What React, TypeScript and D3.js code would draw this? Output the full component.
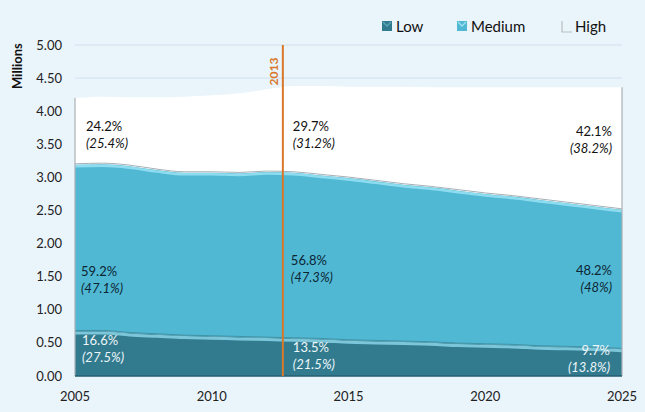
import React from "react";
import * as d3 from "d3";

const years = d3.range(2005, 2026);
const lowValues = [0.68, 0.68, 0.65, 0.63, 0.61, 0.60, 0.59, 0.58, 0.57, 0.56, 0.54, 0.53, 0.52, 0.51, 0.49, 0.48, 0.47, 0.45, 0.44, 0.43, 0.41];
const mediumValues = [2.51, 2.52, 2.52, 2.48, 2.46, 2.47, 2.47, 2.50, 2.50, 2.47, 2.45, 2.41, 2.37, 2.34, 2.31, 2.27, 2.24, 2.21, 2.17, 2.13, 2.10];
const highValues = [1.01, 1.02, 1.04, 1.10, 1.15, 1.17, 1.21, 1.25, 1.31, 1.35, 1.38, 1.43, 1.48, 1.51, 1.56, 1.61, 1.65, 1.70, 1.75, 1.80, 1.85];
const seriesKeys = ["Low", "Medium", "High"];
const yTicks = [0, 0.5, 1, 1.5, 2, 2.5, 3, 3.5, 4, 4.5, 5];
const xTicks = [2005, 2010, 2015, 2020, 2025];
const markerYear = 2012.6;
const markerLabel = "2013";

const labelStart = { High: ["24.2%", "(25.4%)"], Medium: ["59.2%", "(47.1%)"], Low: ["16.6%", "(27.5%)"] };
const labelMid = { High: ["29.7%", "(31.2%)"], Medium: ["56.8%", "(47.3%)"], Low: ["13.5%", "(21.5%)"] };
const labelEnd = { High: ["42.1%", "(38.2%)"], Medium: ["48.2%", "(48%)"], Low: ["9.7%", "(13.8%)"] };

const W = 645;
const H = 412;
const margin = { left: 75, right: 23, top: 45, bottom: 36 };
const FONT = "Lato, 'Open Sans', sans-serif";

const colors = { Low: "#327b8f", Medium: "#50b8d3", High: "#ffffff" };

export default function App() {
  const data = years.map((y, i) => ({ year: y, Low: lowValues[i], Medium: mediumValues[i], High: highValues[i] }));
  const stack = d3.stack<any>().keys(seriesKeys);
  const layers = stack(data);

  const x = d3.scaleLinear().domain([2005, 2025]).range([margin.left, W - margin.right]);
  const y = d3.scaleLinear().domain([0, 5]).range([H - margin.bottom, margin.top]);

  const area = d3
    .area<any>()
    .x((d) => x(d.data.year))
    .y0((d) => y(d[0]))
    .y1((d) => y(d[1]))
    .curve(d3.curveMonotoneX);
  const topLineOff = (off: number) =>
    d3
      .line<any>()
      .x((d) => x(d.data.year))
      .y((d) => y(d[1]) + off)
      .curve(d3.curveMonotoneX);

  const byKey: any = {};
  layers.forEach((l) => (byKey[l.key] = l));
  const total = byKey.High;
  const x0 = x(2005);
  const x1 = x(2025);

  const textColor = { High: "#111", Medium: "#0d2633", Low: "#eef7fa" };

  const lab = (key: string, lines: string[], xPos: number, anchor: string, yBase: number) => (
    <g key={key + xPos}>
      <text x={xPos} y={yBase} textAnchor={anchor} fontSize={13} fill={(textColor as any)[key]} fontFamily={FONT}>
        {lines[0]}
      </text>
      <text x={xPos} y={yBase + 17} textAnchor={anchor} fontSize={13} fontStyle="italic" fill={(textColor as any)[key]} fontFamily={FONT}>
        {lines[1]}
      </text>
    </g>
  );

  return (
    <svg width={W} height={H} style={{ position: "absolute", left: 0, top: 0, background: "#eaf4fb" }}>
      <rect x={0} y={0} width={W} height={H} fill="#eaf4fb" />
      {yTicks.map((t) => (
        <line key={t} x1={x0} x2={x1} y1={y(t)} y2={y(t)} stroke="#cfe1ee" strokeWidth={1} />
      ))}
      {layers
        .slice()
        .reverse()
        .map((l) => (
          <path key={l.key} d={area(l) as string} fill={(colors as any)[l.key]} />
        ))}
      <path d={topLineOff(-1)(byKey.Medium) as string} fill="none" stroke="#a6b0b5" strokeWidth={1} />
      <path d={topLineOff(1.5)(byKey.Medium) as string} fill="none" stroke="#8edcef" strokeWidth={2.5} />
      <path d={topLineOff(-0.5)(byKey.Low) as string} fill="none" stroke="#3f94a8" strokeWidth={1} />
      <path d={topLineOff(2)(byKey.Low) as string} fill="none" stroke="#7cc6d9" strokeWidth={3} />
      <line x1={x0} x2={x0} y1={y(total[0][1])} y2={y(0)} stroke="#a9b1b5" strokeWidth={1.2} />
      <line x1={x1} x2={x1} y1={y(total[total.length - 1][1])} y2={y(0)} stroke="#a9b1b5" strokeWidth={1.2} />
      <line x1={x0} x2={x1} y1={y(0)} y2={y(0)} stroke="#245f70" strokeWidth={1.5} />

      <line x1={x(markerYear)} x2={x(markerYear)} y1={y(5)} y2={y(0)} stroke="#d9782b" strokeWidth={2} />
      <text
        transform={`translate(${x(markerYear) - 5},${y(4.6)}) rotate(-90)`}
        textAnchor="middle"
        fontSize={12}
        fontWeight="bold"
        fill="#d9782b"
        fontFamily={FONT}
      >
        {markerLabel}
      </text>

      {lab("High", labelStart.High, x(2005) + 11, "start", y(3.7))}
      {lab("High", labelMid.High, x(markerYear) + 10, "start", y(3.7))}
      {lab("High", labelEnd.High, x(2025) - 10, "end", y(3.63))}
      {lab("Medium", labelStart.Medium, x(2005) + 6, "start", y(1.51))}
      {lab("Medium", labelMid.Medium, x(markerYear) + 8, "start", y(1.68))}
      {lab("Medium", labelEnd.Medium, x(2025) - 10, "end", y(1.53))}
      {lab("Low", labelStart.Low, x(2005) + 7, "start", y(0.47))}
      {lab("Low", labelMid.Low, x(markerYear) + 10, "start", y(0.36))}
      {lab("Low", labelEnd.Low, x(2025) - 12, "end", y(0.32))}

      {yTicks.map((t) => (
        <text key={t} x={62} y={y(t) + 4.5} textAnchor="end" fontSize={13} fill="#222" fontFamily={FONT}>
          {d3.format(".2f")(t)}
        </text>
      ))}
      <text transform={`translate(22,${y(4.68)}) rotate(-90)`} textAnchor="middle" fontSize={13} fontWeight="bold" fill="#111" fontFamily={FONT}>
        Millions
      </text>
      {xTicks.map((t) => (
        <text key={t} x={x(t)} y={401} textAnchor="middle" fontSize={13} fill="#222" fontFamily={FONT}>
          {t}
        </text>
      ))}

      {[
        { key: "Low", mx: 382, tx: 396 },
        { key: "Medium", mx: 457, tx: 471 },
        { key: "High", mx: 562, tx: 575 },
      ].map((it) => (
        <g key={it.key}>
          {it.key === "High" ? (
            <path d={`M${it.mx},${21} V${32} H${it.mx + 10}`} fill="none" stroke="#b8bfc3" strokeWidth={1.2} />
          ) : (
            <g>
              <rect x={it.mx} y={21} width={10} height={10} fill={(colors as any)[it.key]} />
              <path d={`M${it.mx + 1},${22} L${it.mx + 5},${26} L${it.mx + 9},${22}`} fill="none" stroke={it.key === "Low" ? "#5aa6ba" : "#9ee3f2"} strokeWidth={1.3} />
            </g>
          )}
          <text x={it.tx} y={32} fontSize={15} fill="#111" fontFamily={FONT}>
            {it.key}
          </text>
        </g>
      ))}
    </svg>
  );
}
